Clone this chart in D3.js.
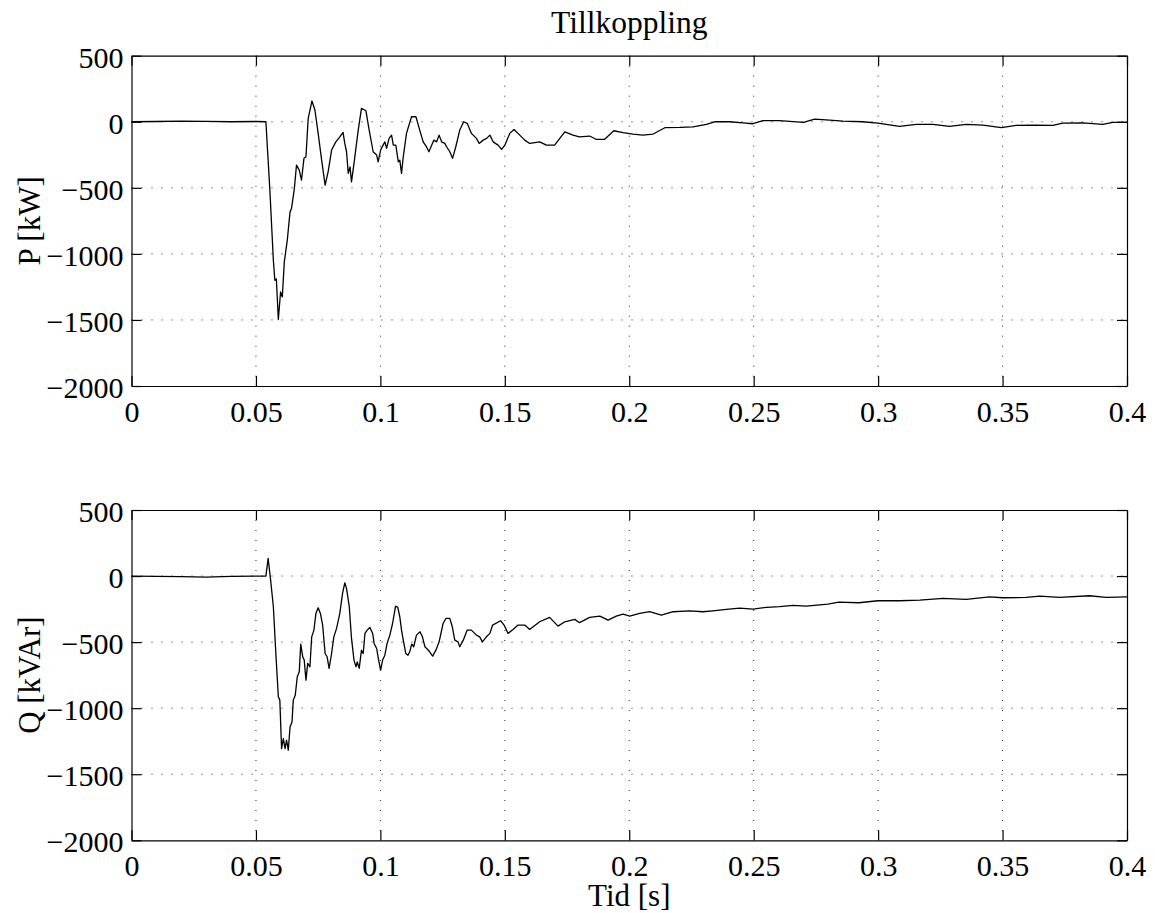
<!DOCTYPE html>
<html>
<head>
<meta charset="utf-8">
<script src="https://cdn.jsdelivr.net/npm/d3@7"></script>
<style>
  body { margin: 0; background: #fff; }
  svg text { font-family: "Liberation Serif", "Times New Roman", Times, serif; fill: #000; }
  .grid line { stroke: #000; stroke-width: 1; stroke-dasharray: 1,9; opacity: 0.85; }
  .axis path, .axis line { stroke: #000; stroke-width: 1.2; }
</style>
</head>
<body>
<div id="chart"></div>
<script>
// tick values and labels
var xTicks = [0, 0.05, 0.1, 0.15, 0.2, 0.25, 0.3, 0.35, 0.4];
var xTickLabels = ["0", "0.05", "0.1", "0.15", "0.2", "0.25", "0.3", "0.35", "0.4"];
var yTicks = [500, 0, -500, -1000, -1500, -2000];
var yTickLabels = ["500", "0", "\u2212500", "\u22121000", "\u22121500", "\u22122000"];

// P [kW]
var timeP = [0, 0.01, 0.02, 0.03, 0.04, 0.05, 0.054, 0.0556, 0.057, 0.0576, 0.0582, 0.059, 0.0599, 0.0606,
  0.0614, 0.0626, 0.0637, 0.0643, 0.0654, 0.0663, 0.0674, 0.0683, 0.0693, 0.0701, 0.071, 0.0725, 0.0737,
  0.075, 0.0764, 0.0778, 0.079, 0.0804, 0.0821, 0.0837, 0.085, 0.0857, 0.0864, 0.0871, 0.0878, 0.0884,
  0.0894, 0.0911, 0.0924, 0.0942, 0.0955, 0.0971, 0.0985, 0.0991, 0.1001, 0.1011, 0.1018, 0.1025, 0.1035,
  0.1045, 0.1052, 0.1062, 0.1072, 0.1078, 0.1085, 0.1092, 0.1105, 0.1125, 0.1143, 0.1156, 0.1172, 0.1185,
  0.1195, 0.1206, 0.1215, 0.1226, 0.1236, 0.1246, 0.1259, 0.1266, 0.1279, 0.129, 0.1303, 0.1319, 0.1335,
  0.1349, 0.1366, 0.1386, 0.1397, 0.1413, 0.1427, 0.144, 0.1453, 0.1473, 0.1487, 0.15, 0.152, 0.1537,
  0.156, 0.158, 0.16, 0.164, 0.1667, 0.17, 0.1741, 0.1774, 0.18, 0.1841, 0.1868, 0.19, 0.1938, 0.1975,
  0.2015, 0.2055, 0.2096, 0.2143, 0.2203, 0.2256, 0.231, 0.2343, 0.2404, 0.2457, 0.2497, 0.2537, 0.2604,
  0.27, 0.2745, 0.2805, 0.2858, 0.2938, 0.2999, 0.3086, 0.3153, 0.322, 0.3287, 0.3354, 0.3421, 0.3495,
  0.3555, 0.3622, 0.3702, 0.3742, 0.3822, 0.3903, 0.3943, 0.4];
var valuesP = [0, 2, 5, 3, 0, 2, 0, -519, -1048, -1200, -1190, -1497, -1288, -1326,
  -1061, -896, -682, -656, -512, -328, -366, -442, -277, -265, 26, 157, 89,
  -88, -290, -480, -379, -214, -152, -114, -80, -164, -227, -391, -341, -455,
  -315, -63, 101, 83, -63, -227, -252, -303, -214, -177, -152, -202, -126,
  -101, -177, -177, -303, -290, -391, -265, -88, 38, 38, -50, -152, -189,
  -227, -177, -139, -152, -101, -152, -164, -189, -227, -277, -189, -63, 0,
  -12, -88, -126, -164, -139, -126, -101, -152, -177, -209, -177, -88, -58,
  -101, -139, -164, -152, -177, -177, -76, -101, -114, -108, -134, -134, -68, -83,
  -93, -101, -93, -45, -43, -38, -20, 0, 0, -8, -15, 8, 8,
  -5, 20, 13, 5, 0, -10, -35, -20, -20, -35, -20, -25, -45,
  -28, -25, -28, -10, -8, -20, -5, -5];

// Q [kVAr]
var timeQ = [0, 0.01, 0.02, 0.03, 0.04, 0.05, 0.054, 0.0549, 0.0559, 0.057, 0.058, 0.059, 0.0596, 0.0603,
  0.061, 0.0617, 0.0623, 0.063, 0.0637, 0.0645, 0.065, 0.0658, 0.0666, 0.0674, 0.068, 0.0688, 0.0694,
  0.0701, 0.0708, 0.0717, 0.0724, 0.0733, 0.0741, 0.075, 0.0759, 0.0768, 0.0778, 0.0786, 0.0794, 0.0804,
  0.0813, 0.0824, 0.0837, 0.0848, 0.0857, 0.0864, 0.0875, 0.0884, 0.0894, 0.0902, 0.0907, 0.0915, 0.0924,
  0.0931, 0.0938, 0.0947, 0.0958, 0.0969, 0.0975, 0.0985, 0.0993, 0.1001, 0.1009, 0.1018, 0.1027, 0.1038,
  0.1049, 0.1061, 0.107, 0.1078, 0.1085, 0.1092, 0.1102, 0.1111, 0.1118, 0.1126, 0.1134, 0.1145, 0.1159,
  0.1169, 0.1179, 0.1193, 0.121, 0.1223, 0.1236, 0.1252, 0.1263, 0.1279, 0.1289, 0.1299, 0.1312, 0.1319,
  0.1333, 0.1349, 0.1366, 0.1386, 0.1399, 0.141, 0.1426, 0.144, 0.1451, 0.1483, 0.1497, 0.1513, 0.1533,
  0.1553, 0.158, 0.16, 0.164, 0.168, 0.1714, 0.1741, 0.1781, 0.18, 0.1841, 0.1882, 0.1915, 0.1948, 0.1975,
  0.2002, 0.2042, 0.2082, 0.2129, 0.2176, 0.2243, 0.2296, 0.2336, 0.239, 0.2444, 0.2497, 0.2551, 0.2604,
  0.2658, 0.2711, 0.2798, 0.2842, 0.2922, 0.2999, 0.3086, 0.3167, 0.3261, 0.3354, 0.3448, 0.3501, 0.3595,
  0.3649, 0.3729, 0.3849, 0.3916, 0.4];
var valuesQ = [0, -3, -5, -8, -3, 0, 0, 134, -30, -232, -586, -914, -939, -1306,
  -1230, -1306, -1242, -1318, -1142, -1104, -939, -902, -763, -725, -515, -611, -636,
  -788, -661, -687, -460, -409, -283, -240, -283, -371, -586, -611, -699, -586,
  -460, -396, -283, -131, -51, -93, -232, -472, -636, -687, -649, -699, -561,
  -586, -434, -409, -389, -434, -510, -548, -636, -712, -636, -599, -510, -447,
  -359, -227, -237, -308, -409, -485, -586, -599, -573, -515, -535, -447, -422,
  -460, -535, -561, -606, -561, -498, -359, -321, -321, -384, -485, -498, -535,
  -485, -409, -409, -447, -460, -498, -460, -434, -371, -338, -371, -434, -404,
  -371, -371, -404, -346, -313, -379, -346, -328, -353, -313, -303, -333, -303, -288,
  -303, -283, -270, -295, -270, -263, -270, -263, -252, -242, -250, -237, -232,
  -222, -227, -212, -197, -202, -187, -187, -182, -169, -177, -157, -164, -162,
  -152, -162, -149, -162, -157];

var outerWidth = 1155, outerHeight = 913;
var left = 131.5, right = 1127;
var panels = [
  { top: 55.7, bottom: 386, time: timeP, values: valuesP, label: "P [kW]" },
  { top: 510, bottom: 840.3, time: timeQ, values: valuesQ, label: "Q [kVAr]" }
];

var svg = d3.select("#chart").append("svg")
    .attr("width", outerWidth)
    .attr("height", outerHeight);

var x = d3.scaleLinear().domain([0, 0.4]).range([left, right]);

panels.forEach(function (p) {
    var y = d3.scaleLinear().domain([-2000, 500]).range([p.bottom, p.top]);
    var g = svg.append("g");

    // dotted grid
    var grid = g.append("g").attr("class", "grid");
    grid.selectAll(".gx").data(xTicks.slice(1, -1)).enter().append("line")
        .attr("x1", function (d) { return x(d); }).attr("x2", function (d) { return x(d); })
        .attr("y1", p.top).attr("y2", p.bottom);
    grid.selectAll(".gy").data(yTicks.slice(1, -1)).enter().append("line")
        .attr("y1", function (d) { return y(d); }).attr("y2", function (d) { return y(d); })
        .attr("x1", left).attr("x2", right);

    // curve
    var line = d3.line()
        .x(function (d, i) { return x(p.time[i]); })
        .y(function (d) { return y(d); });
    g.append("path")
        .datum(p.values)
        .attr("d", line)
        .attr("fill", "none")
        .attr("stroke", "#000")
        .attr("stroke-width", 1.3)
        .attr("stroke-linejoin", "round");

    // axes with inward ticks on all four sides
    var xb = g.append("g").attr("class", "axis")
        .attr("transform", "translate(0," + p.bottom + ")")
        .call(d3.axisBottom(x).tickValues(xTicks)
            .tickFormat(function (d, i) { return xTickLabels[i]; })
            .tickSizeInner(-10).tickSizeOuter(0));
    xb.selectAll("text").attr("dy", null).attr("y", 36).style("font-size", "30px");

    g.append("g").attr("class", "axis")
        .attr("transform", "translate(0," + p.top + ")")
        .call(d3.axisTop(x).tickValues(xTicks).tickFormat("").tickSizeInner(-10).tickSizeOuter(0));

    var yl = g.append("g").attr("class", "axis")
        .attr("transform", "translate(" + left + ",0)")
        .call(d3.axisLeft(y).tickValues(yTicks)
            .tickFormat(function (d, i) { return yTickLabels[i]; })
            .tickSizeInner(-10).tickSizeOuter(0));
    yl.selectAll("text").attr("x", -8).attr("dy", "0.38em").style("font-size", "30px");

    g.append("g").attr("class", "axis")
        .attr("transform", "translate(" + right + ",0)")
        .call(d3.axisRight(y).tickValues(yTicks).tickFormat("").tickSizeInner(-10).tickSizeOuter(0));

    g.append("text")
        .attr("transform", "translate(40," + ((p.top + p.bottom) / 2) + ") rotate(-90)")
        .attr("text-anchor", "middle")
        .style("font-size", "31px")
        .text(p.label);
});

svg.append("text")
    .attr("x", (left + right) / 2)
    .attr("y", 33)
    .attr("text-anchor", "middle")
    .style("font-size", "31.5px")
    .text("Tillkoppling");

svg.append("text")
    .attr("x", (left + right) / 2)
    .attr("y", 906)
    .attr("text-anchor", "middle")
    .style("font-size", "31px")
    .text("Tid [s]");
</script>
</body>
</html>
